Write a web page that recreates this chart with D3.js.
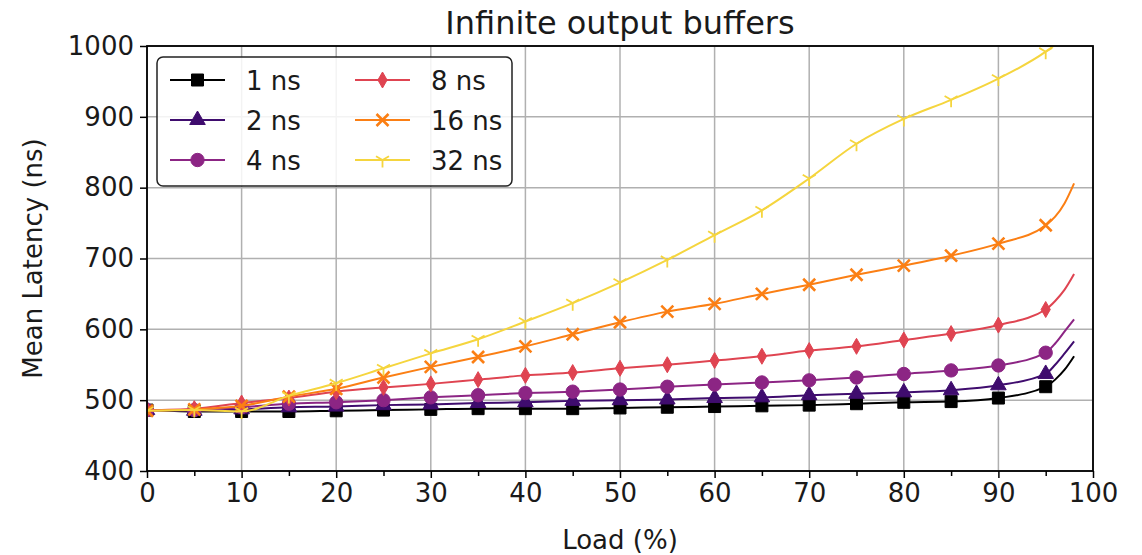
<!DOCTYPE html>
<html>
<head>
<meta charset="utf-8">
<script src="https://cdn.jsdelivr.net/npm/d3@7"></script>
<style>
  body { margin: 0; background: #fff; }
  svg { display: block; }
  text { font-family: "DejaVu Sans", sans-serif; fill: #1a1a1a; }
</style>
</head>
<body>
<svg id="chart" width="1142" height="555"></svg>
<script>
// Offered load (%) at each sample
const load = [0, 5, 10, 15, 20, 25, 30, 35, 40, 45, 50, 55, 60, 65, 70, 75, 80, 85, 90, 95, 96, 97, 98];

// Mean latency (ns) per link delay
const lat1ns  = [486, 484, 484, 484, 485, 486, 487, 488, 488, 488, 489, 490, 491, 492, 493, 495, 497, 498, 503, 519, 529, 543, 562];
const lat2ns  = [486, 485, 487, 490, 491, 493, 494, 496, 497, 499, 500, 501, 503, 504, 507, 509, 511, 514, 521, 537, 550, 566, 583];
const lat4ns  = [486, 486, 490, 495, 497, 500, 504, 507, 510, 512, 515, 519, 522, 525, 528, 532, 537, 542, 549, 567, 580, 597, 614];
const lat8ns  = [486, 488, 496, 503, 512, 518, 523, 529, 535, 539, 545, 550, 556, 562, 570, 576, 585, 594, 606, 628, 640, 656, 678];
const lat16ns = [485, 487, 492, 505, 516, 532, 547, 561, 576, 593, 610, 625, 636, 650, 663, 677, 690, 704, 721, 747, 759, 778, 806];
const lat32ns = [485, 486, 484, 506, 524, 545, 566, 586, 611, 637, 666, 698, 733, 768, 813, 862, 897, 924, 954, 992, 1002, 1014, 1030];

const seriesNames = ["1 ns", "2 ns", "4 ns", "8 ns", "16 ns", "32 ns"];
const seriesValues = [lat1ns, lat2ns, lat4ns, lat8ns, lat16ns, lat32ns];

const xTicks = [0, 10, 20, 30, 40, 50, 60, 70, 80, 90, 100];
const xMinorTicks = [5, 15, 25, 35, 45, 55, 65, 75, 85, 95];
const yTicks = [400, 500, 600, 700, 800, 900, 1000];

// Styling
const colors = ["#000000", "#3f0c6e", "#8c2584", "#df4451", "#fb7f14", "#f5d53e"];
const markerKinds = ["square", "triangle", "circle", "thinDiamond", "x", "triDown"];

const svg = d3.select("#chart");
const margin = { left: 147, right: 1142 - 1093, top: 46, bottom: 555 - 471 };
const W = 1142, H = 555;
const x = d3.scaleLinear().domain([0, 100]).range([margin.left, W - margin.right]);
const y = d3.scaleLinear().domain([400, 1000]).range([H - margin.bottom, margin.top]);

// Clip region for the plotting area
svg.append("defs").append("clipPath").attr("id", "plotClip")
  .append("rect")
  .attr("x", x(0)).attr("y", y(1000))
  .attr("width", x(100) - x(0)).attr("height", y(400) - y(1000));

// Grid
const grid = svg.append("g").attr("stroke", "#b0b0b0").attr("stroke-width", 1.5);
xTicks.forEach(t => grid.append("line")
  .attr("x1", x(t)).attr("x2", x(t)).attr("y1", y(400)).attr("y2", y(1000)));
yTicks.forEach(t => grid.append("line")
  .attr("x1", x(0)).attr("x2", x(100)).attr("y1", y(t)).attr("y2", y(t)));

// Marker shapes
function markerPath(kind) {
  switch (kind) {
    case "square": return d3.symbol(d3.symbolSquare, 144)();
    case "triangle": return d3.symbol(d3.symbolTriangle, 105)();
    case "circle": return d3.symbol(d3.symbolCircle, 140)();
    case "thinDiamond": return "M0,-8L4.6,0L0,8L-4.6,0Z";
    case "x": return "M-6,-6L6,6M-6,6L6,-6";
    case "triDown": return "M0,0L0,7.5M0,0L-6.5,-3.8M0,0L6.5,-3.8";
  }
}
function drawMarker(g, kind, color, cx, cy) {
  const open = kind === "x" || kind === "triDown";
  g.append("path")
    .attr("d", markerPath(kind))
    .attr("transform", `translate(${cx},${cy})`)
    .attr("fill", open ? "none" : color)
    .attr("stroke", color)
    .attr("stroke-width", kind === "x" ? 2.6 : (kind === "triDown" ? 1.8 : 1));
}

const line = d3.line()
  .x((d, i) => x(load[i]))
  .y(d => y(d))
  .curve(d3.curveMonotoneX);

const plot = svg.append("g").attr("clip-path", "url(#plotClip)");
seriesValues.forEach((vals, s) => {
  const g = plot.append("g");
  g.append("path")
    .attr("d", line(vals))
    .attr("fill", "none")
    .attr("stroke", colors[s])
    .attr("stroke-width", 2);
  vals.forEach((v, i) => {
    if (load[i] % 5 === 0) drawMarker(g, markerKinds[s], colors[s], x(load[i]), y(v));
  });
});

// Axes
const xAxis = d3.axisBottom(x).tickValues(xTicks).tickFormat(d3.format("d")).tickSizeInner(7).tickSizeOuter(0).tickPadding(6);
const xAxisMinor = d3.axisBottom(x).tickValues(xMinorTicks).tickFormat("").tickSizeInner(5).tickSizeOuter(0);
const yAxis = d3.axisLeft(y).tickValues(yTicks).tickFormat(d3.format("d")).tickSizeInner(7).tickSizeOuter(0).tickPadding(6);

function styleAxis(g) {
  g.select(".domain").remove();
  g.selectAll(".tick line").attr("stroke", "#000").attr("stroke-width", 1.5);
  g.selectAll(".tick text").attr("font-size", 26).attr("font-family", "DejaVu Sans").attr("fill", "#1a1a1a");
}
svg.append("g").attr("transform", `translate(0,${y(400)})`).call(xAxis).call(styleAxis);
svg.append("g").attr("transform", `translate(0,${y(400)})`).call(xAxisMinor).call(styleAxis);
svg.append("g").attr("transform", `translate(${x(0)},0)`).call(yAxis).call(styleAxis);

// Frame
svg.append("rect")
  .attr("x", x(0)).attr("y", y(1000))
  .attr("width", x(100) - x(0)).attr("height", y(400) - y(1000))
  .attr("fill", "none").attr("stroke", "#000").attr("stroke-width", 1.8);

// Titles
svg.append("text").attr("x", (x(0) + x(100)) / 2).attr("y", 34)
  .attr("text-anchor", "middle").attr("font-size", 32).text("Infinite output buffers");
svg.append("text").attr("x", (x(0) + x(100)) / 2).attr("y", 549)
  .attr("text-anchor", "middle").attr("font-size", 26).text("Load (%)");
svg.append("text")
  .attr("transform", `translate(42,${(y(400) + y(1000)) / 2}) rotate(-90)`)
  .attr("text-anchor", "middle").attr("font-size", 26).text("Mean Latency (ns)");

// Legend
const legend = svg.append("g");
legend.append("rect")
  .attr("x", 157).attr("y", 57).attr("width", 355).attr("height", 129)
  .attr("rx", 6).attr("fill", "#fff").attr("fill-opacity", 0.85)
  .attr("stroke", "#222").attr("stroke-width", 1.5);
seriesNames.forEach((name, s) => {
  const col = Math.floor(s / 3), row = s % 3;
  const lx = col === 0 ? 170 : 355;
  const ly = 80 + row * 40;
  const g = legend.append("g");
  g.append("line").attr("x1", lx).attr("x2", lx + 55).attr("y1", ly).attr("y2", ly)
    .attr("stroke", colors[s]).attr("stroke-width", 2);
  drawMarker(g, markerKinds[s], colors[s], lx + 27.5, ly);
  g.append("text").attr("x", lx + 76).attr("y", ly + 9.5)
    .attr("font-size", 26).text(name);
});
</script>
</body>
</html>
